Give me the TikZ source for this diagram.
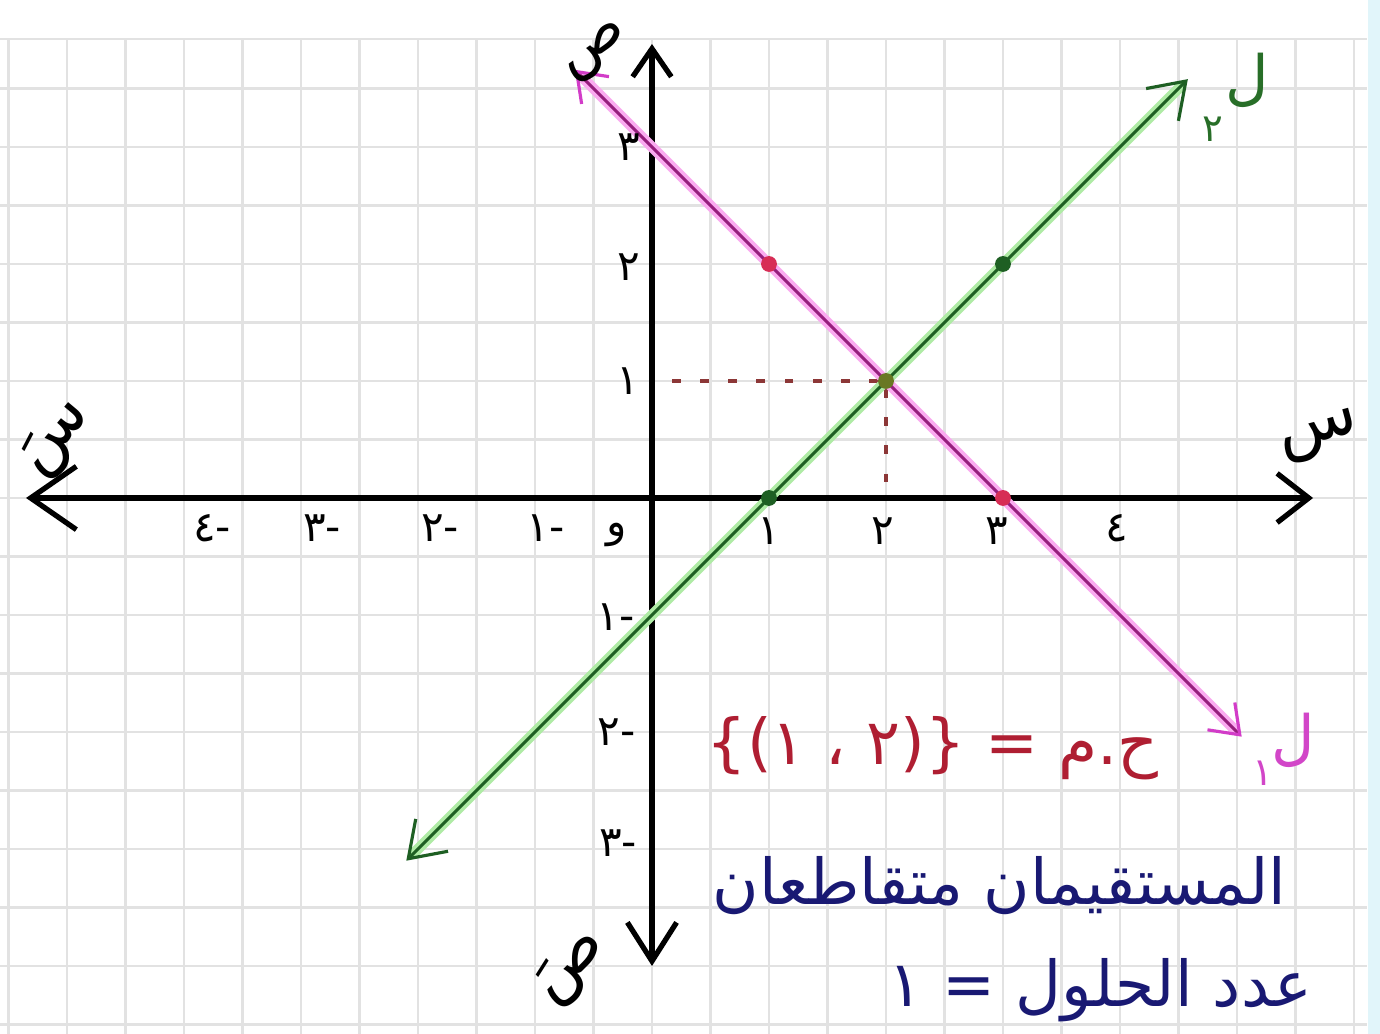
\documentclass[tikz,border=0pt]{standalone}
\usepackage{fontspec}
\setmainfont{DejaVu Sans}
\newfontfamily\arabicfont[Script=Arabic]{DejaVu Sans}
\TeXXeTstate=1
\usetikzlibrary{arrows.meta}
\definecolor{gridc}{RGB}{226,226,226}
\definecolor{magcore}{RGB}{150,30,125}
\definecolor{maghalo}{RGB}{250,170,240}
\definecolor{magtip}{RGB}{210,60,200}
\definecolor{grncore}{RGB}{30,95,35}
\definecolor{grnhalo}{RGB}{175,235,165}
\definecolor{redtxt}{RGB}{175,30,50}
\definecolor{bluetxt}{RGB}{25,25,115}
\definecolor{dashc}{RGB}{140,55,55}
\definecolor{cyanstrip}{RGB}{225,245,250}
\definecolor{olivedot}{RGB}{105,120,35}
\definecolor{reddot}{RGB}{215,45,85}
\definecolor{grnlbl}{RGB}{40,110,40}
\definecolor{maglbl}{RGB}{210,70,200}
\tikzset{
  gridline/.style={draw=gridc, line width=1.6pt},
  axisline/.style={draw=black, line width=3pt, line cap=round},
  dashline/.style={draw=dashc, line width=2pt, dash pattern=on 5pt off 11pt},
  halo/.style={line width=6pt, line cap=round, shorten <=6pt, shorten >=6pt},
  coreline/.style={line width=1.8pt},
  dotnode/.style={circle, inner sep=0pt, minimum size=9pt},
  ticklbl/.style={font=\arabicfont\fontsize{24}{28}\selectfont, text=black, inner sep=0pt},
  axislbl/.style={font=\arabicfont\fontsize{38}{42}\selectfont, text=black, inner sep=0pt},
  linelbl/.style={font=\arabicfont\fontsize{34}{38}\selectfont, inner sep=0pt},
  linesub/.style={font=\arabicfont\fontsize{22}{26}\selectfont, inner sep=0pt},
  bigtxt/.style={font=\arabicfont\fontsize{36}{42}\selectfont, inner sep=0pt}
}
\begin{document}
\begin{tikzpicture}[x=2.34cm,y=2.34cm]
\useasboundingbox (-5.5726,-4.5812) rectangle (6.2222,4.2564);
\fill[white] (-5.5726,-4.5812) rectangle (6.2222,4.2564);
\fill[cyanstrip] (6.12,-4.5812) rectangle (6.2222,4.2564);
% grid paper
\foreach \k in {-11,...,12} \draw[gridline] (\k/2,-4.5812) -- (\k/2,3.923);
\foreach \k in {-9,...,7} \draw[gridline] (-5.5726,\k/2) -- (6.111,\k/2);
\draw[gridline] (-5.5726,3.923) -- (6.111,3.923);
% coordinates
\coordinate (O) at (0,0);
\coordinate (xL) at (-5.35,0);
\coordinate (xR) at (5.65,0);
\coordinate (yT) at (0,3.88);
\coordinate (yB) at (0,-4.0);
\coordinate (m1) at (-0.66,3.66);
\coordinate (m2) at (5.04,-2.04);
\coordinate (g1) at (-2.1,-3.1);
\coordinate (g2) at (4.58,3.58);
\coordinate (Y1) at (0.07,1);
\coordinate (X2) at (2,0.05);
% axes
\draw[axisline, {Straight Barb[length=26pt,width=36pt]}-{Straight Barb[length=18pt,width=28pt]}] (xL) -- (xR);
\draw[axisline, {Straight Barb[length=22pt,width=28pt]}-{Straight Barb[length=16pt,width=22pt]}] (yB) -- (yT);
% intersection point
\node[dotnode, fill=olivedot] (P) at (2,1) {};
% dashed guides
\draw[dashline] (P) -- (Y1);
\draw[dashline] (P) -- (X2);
% green line L2
\draw[halo, grnhalo] (g1) -- (g2);
\draw[coreline, grncore, {Straight Barb[length=19pt,width=26pt]}-{Straight Barb[length=19pt,width=26pt]}] (g1) -- (g2);
% magenta line L1
\draw[halo, maghalo] (m1) -- (m2);
\draw[coreline, magcore, {Straight Barb[length=15pt,width=22pt,color=magtip]}-{Straight Barb[length=15pt,width=22pt,color=magtip]}] (m1) -- (m2);
% points
\node[dotnode, fill=reddot] (dM1) at (1,2) {};
\node[dotnode, fill=reddot] (dM2) at (3,0) {};
\node[dotnode, fill=grncore] (dG1) at (1,0) {};
\node[dotnode, fill=grncore] (dG2) at (3,2) {};
\node[dotnode, fill=olivedot] (P2) at (2,1) {};
% x tick labels
\node[ticklbl] (tx-4) at (-3.76,-0.26) {٤\hbox{-}};
\node[ticklbl] (tx-3) at (-2.82,-0.26) {٣\hbox{-}};
\node[ticklbl] (tx-2) at (-1.81,-0.26) {٢\hbox{-}};
\node[ticklbl] (tx-1) at (-0.91,-0.26) {١\hbox{-}};
\node[ticklbl] (tx0) at (-0.30,-0.32) {و};
\node[ticklbl] (tx1) at (1.0,-0.28) {١};
\node[ticklbl] (tx2) at (1.97,-0.28) {٢};
\node[ticklbl] (tx3) at (2.95,-0.28) {٣};
\node[ticklbl] (tx4) at (3.97,-0.26) {٤};
% y tick labels
\node[ticklbl] (ty3) at (-0.2,3.0) {٣};
\node[ticklbl] (ty2) at (-0.2,1.97) {٢};
\node[ticklbl] (ty1) at (-0.21,1.0) {١};
\node[ticklbl] (ty-1) at (-0.31,-1.02) {١\hbox{-}};
\node[ticklbl] (ty-2) at (-0.30,-2.0) {٢\hbox{-}};
\node[ticklbl] (ty-3) at (-0.29,-2.95) {٣\hbox{-}};
% axis names
\node[axislbl, rotate=15] (sx) at (5.71,0.52) {س};
\node[axislbl, rotate=50] (sxp) at (-5.08,0.50) {سَ};
\node[axislbl, rotate=35, font=\arabicfont\fontsize{34}{38}\selectfont] (sy) at (-0.47,3.80) {ص};
\node[axislbl, rotate=45] (syp) at (-0.68,-4.02) {صَ};
% line labels
\node[linelbl, text=grnlbl] (L2) at (5.09,3.57) {ل};
\node[linesub, text=grnlbl] (L2n) at (4.79,3.15) {٢};
\node[linelbl, text=maglbl] (L1) at (5.48,-2.07) {ل};
\node[linesub, text=maglbl] (L1n) at (5.22,-2.35) {١};
% solution texts
\node[bigtxt, text=redtxt] (sol) at (2.40,-2.14) {\beginR ح.م = {\rmfamily ٢)\}} ، {\rmfamily \{(١}\endR};
\node[bigtxt, text=bluetxt] (inter) at (2.97,-3.31) {\beginR المستقيمان متقاطعان\endR};
\node[bigtxt, text=bluetxt] (count) at (3.83,-4.21) {\beginR عدد الحلول = ١\endR};
\end{tikzpicture}
\end{document}
